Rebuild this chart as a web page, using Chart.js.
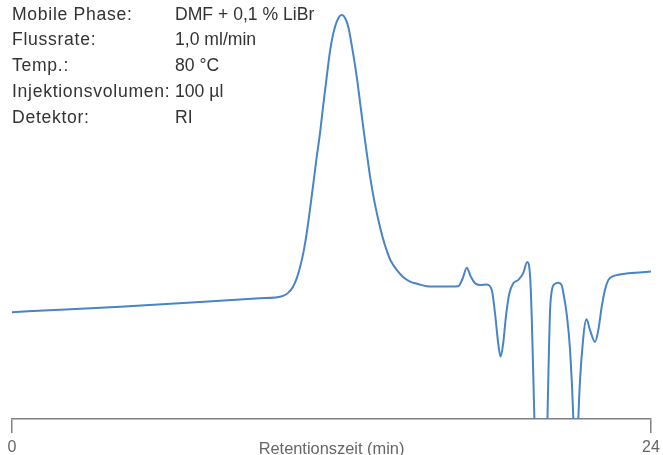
<!DOCTYPE html>
<html lang="de">
<head>
<meta charset="utf-8">
<title>GPC-Chromatogramm</title>
<script src="https://cdn.jsdelivr.net/npm/chart.js@4/dist/chart.umd.min.js"></script>
<style>
  html, body { margin: 0; padding: 0; background: #ffffff; }
  #chart { display: block; }
</style>
</head>
<body>
<canvas id="chart" width="663" height="455"></canvas>
<script>
// Retention time (min) and detector signal (RI, arbitrary units; 0 = axis line)
const retentionTime = [
  0.00, 1.80, 4.06, 7.06, 9.31, 9.88, 10.18, 10.37, 10.55, 10.70,
  10.82, 10.95, 11.07, 11.19, 11.32, 11.44, 11.57, 11.69, 11.82, 11.94,
  12.07, 12.21, 12.38, 12.51, 12.63, 12.77, 12.95, 13.07, 13.19, 13.32,
  13.45, 13.60, 13.76, 13.92, 14.07, 14.23, 14.45, 14.69, 14.95, 15.25,
  15.58, 16.08, 16.76, 16.93, 17.08, 17.23, 17.39, 17.58, 17.83, 18.02,
  18.14, 18.26, 18.35, 18.45, 18.55, 18.68, 18.83, 19.02, 19.20, 19.35,
  19.46, 19.52, 19.58, 19.62, 19.85, 20.11, 20.15, 20.21, 20.28, 20.38,
  20.52, 20.64, 20.71, 20.83, 20.96, 21.08, 21.18, 21.27, 21.46, 21.58,
  21.71, 21.90, 22.02, 22.15, 22.27, 22.40, 22.58, 22.84, 23.40, 24.00
];
const riSignal = [
  25.5, 26.1, 26.8, 27.9, 28.8, 29.0, 29.4, 30.1, 31.5, 33.7,
  36.3, 39.9, 44.4, 49.9, 56.3, 62.3, 68.3, 74.9, 81.6, 87.6,
  92.1, 95.0, 96.4, 95.7, 93.6, 88.8, 81.6, 75.7, 69.7, 63.7,
  57.8, 52.3, 47.5, 43.4, 40.3, 37.7, 35.6, 33.9, 32.8, 32.2,
  31.7, 31.6, 31.7, 33.6, 36.1, 34.0, 32.4, 32.0, 32.1, 30.8,
  25.3, 18.1, 14.9, 18.1, 24.4, 30.0, 32.4, 33.2, 34.8, 37.5,
  34.0, 24.4, 10.1, 0.0, -40.0, 0.0, 11.7, 26.0, 30.8, 32.2,
  32.5, 32.0, 30.0, 25.2, 16.5, 0.5, -25.0, 0.0, 19.6, 23.8,
  21.2, 18.4, 21.2, 26.8, 30.8, 33.2, 34.1, 34.5, 34.9, 35.2
];

// Axis ticks and title
const timeTicks = [0, 24];
const timeAxisTitle = 'Retentionszeit (min)';

// Measurement conditions
const conditionLabels = ['Mobile Phase:', 'Flussrate:', 'Temp.:', 'Injektionsvolumen:', 'Detektor:'];
const conditionValues = ['DMF + 0,1 % LiBr', '1,0 ml/min', '80 °C', '100 µl', 'RI'];

const FONT = '"Liberation Sans", Arial, sans-serif';

const points = retentionTime.map((t, i) => ({ x: t, y: riSignal[i] }));

// Condition block (top left) and axis title drawn on the same canvas
const textPlugin = {
  id: 'chromText',
  afterDraw(chart) {
    const ctx = chart.ctx;
    ctx.save();
    ctx.fillStyle = '#333333';
    ctx.textAlign = 'left';
    ctx.textBaseline = 'alphabetic';
    conditionLabels.forEach((label, i) => {
      const y = 19.5 + i * 25.8;
      ctx.font = '17.6px ' + FONT;
      ctx.letterSpacing = '0.7px';
      ctx.fillText(label, 12, y);
      ctx.letterSpacing = '0px';
      ctx.fillText(conditionValues[i], 175, y);
    });
    const xs = chart.scales.x;
    ctx.fillStyle = '#666666';
    ctx.font = '16.4px ' + FONT;
    ctx.textAlign = 'center';
    ctx.fillText(timeAxisTitle, (xs.left + xs.right) / 2, xs.bottom - 1.5);
    ctx.restore();
  }
};

new Chart(document.getElementById('chart'), {
  type: 'line',
  data: {
    datasets: [{
      data: points,
      borderColor: '#4884c8',
      borderWidth: 2,
      pointRadius: 0,
      fill: false,
      cubicInterpolationMode: 'monotone'
    }]
  },
  options: {
    responsive: false,
    animation: false,
    events: [],
    layout: { padding: { left: 12, right: 12, top: 0, bottom: 0 } },
    plugins: {
      legend: { display: false },
      tooltip: { enabled: false },
      title: { display: false }
    },
    scales: {
      x: {
        type: 'linear',
        min: 0,
        max: 24,
        afterBuildTicks(scale) {
          scale.ticks = timeTicks.map(v => ({ value: v }));
        },
        afterFit(scale) {
          // axis band: 14px tick marks + label row
          scale.height = 36;
          scale.paddingLeft = 0;
          scale.paddingRight = 0;
        },
        grid: {
          drawOnChartArea: false,
          drawTicks: true,
          tickLength: 14,
          color: '#808080',
          lineWidth: 1.5
        },
        border: { display: true, color: '#808080', width: 1.5 },
        ticks: {
          color: '#666666',
          font: { family: FONT, size: 16, lineHeight: 0.88 },
          padding: 8,
          maxRotation: 0,
          autoSkip: false
        }
      },
      y: {
        display: false,
        min: 0,
        max: 100
      }
    }
  },
  plugins: [textPlugin]
});
</script>
</body>
</html>
